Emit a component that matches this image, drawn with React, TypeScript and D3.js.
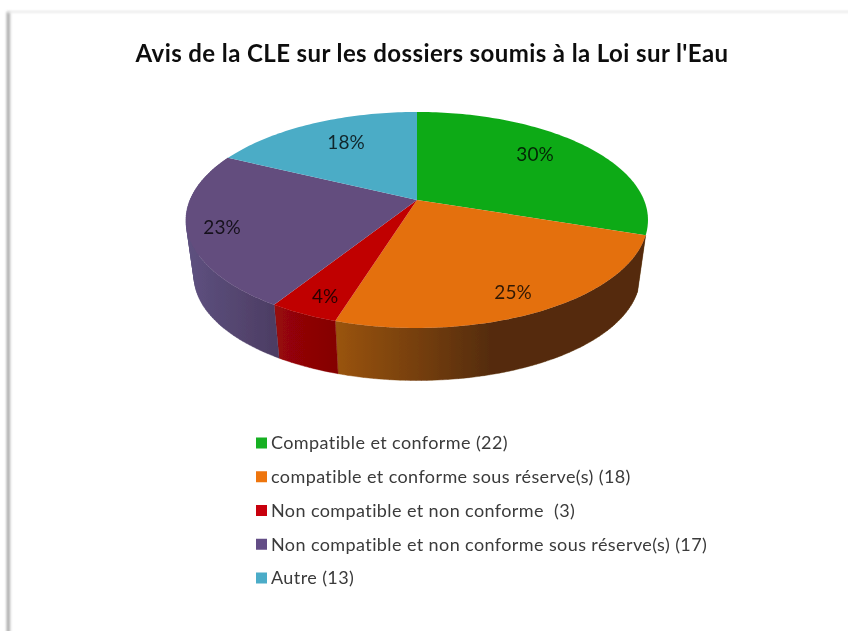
import React from "react";
import * as d3 from "d3";

const categories = [
  "Compatible et conforme (22)",
  "compatible et conforme sous réserve(s) (18)",
  "Non compatible et non conforme  (3)",
  "Non compatible et non conforme sous réserve(s) (17)",
  "Autre (13)",
];
const counts = [22, 18, 3, 17, 13];
const percentLabels = ["30%", "25%", "4%", "23%", "18%"];
const topColors = ["#10aa18", "#e46f0e", "#c00000", "#644d7e", "#4bacc6"];
const legendColors = ["#12b020", "#ee7410", "#c80008", "#644d86", "#4bacc8"];
const sideFrom = ["#0a7010", "#9a5410", "#980808", "#5e5180", "#2f7f95"];
const sideTo = ["#0a7010", "#552c08", "#840004", "#4c3c62", "#2f7f95"];
const labelPos: [number, number][] = [[535, 154], [513, 292], [325, 296], [222, 227], [346, 142]];

const W = 848, H = 631;
const cx = 417, apexY = 200, a = 227, b = 104.3, k = 0.185;
const depthApexY = 257, depthScale = 0.965;

function project(angle: number, scale: number, ay: number): [number, number] {
  const u = Math.sin(angle), v = -Math.cos(angle);
  const w = 1 - k * v;
  return [cx + (scale * a * u) / w, ay + (scale * b * v) / w];
}
function samples(a0: number, a1: number) {
  const n = Math.max(2, Math.ceil((a1 - a0) / 0.02));
  return d3.range(n + 1).map((i) => a0 + ((a1 - a0) * i) / n);
}

export default function App() {
  const arcs = d3.pie<number>().sort(null)(counts);
  const line = d3.line();
  const rows = d3.scalePoint<number>().domain(d3.range(5)).range([443, 578]);
  const topPath = (s: number, e: number) =>
    line([[cx, apexY], ...samples(s, e).map((t) => project(t, 1, apexY))])! + "Z";
  const sidePath = (s: number, e: number) => {
    const ts = samples(s, e);
    return ts.slice(1).map((t, j) => {
      const p = [
        project(ts[j], 1, apexY),
        project(t, 1, apexY),
        project(t, depthScale, depthApexY),
        project(ts[j], depthScale, depthApexY),
      ] as [number, number][];
      if (d3.polygonArea(p) < 0) p.reverse();
      return line(p)! + "Z";
    }).join("");
  };
  const sideExtent = (s: number, e: number) =>
    d3.extent(
      samples(s, e).flatMap((t) => [project(t, 1, apexY)[0], project(t, depthScale, depthApexY)[0]])
    ) as [number, number];
  return (
    <svg width={W} height={H} viewBox={`0 0 ${W} ${H}`}
      style={{ position: "fixed", left: 0, top: 0, display: "block", background: "#fff" }}>
      <defs>
        <filter id="soft" x="-5%" y="-5%" width="110%" height="110%"><feGaussianBlur stdDeviation="0.55" /></filter>
        <filter id="softText" x="-5%" y="-5%" width="110%" height="110%"><feGaussianBlur stdDeviation="0.35" /></filter>
        <filter id="edge" x="-500%" y="-20%" width="1100%" height="140%"><feGaussianBlur stdDeviation="1.6" /></filter>
        <filter id="edgeTop" x="-5%" y="-500%" width="110%" height="1100%"><feGaussianBlur stdDeviation="1.2" /></filter>
        {arcs.map((d, i) => {
          const [x0, x1] = sideExtent(d.startAngle, d.endAngle);
          return (
            <linearGradient key={i} id={`side${i}`} gradientUnits="userSpaceOnUse" x1={x0} x2={x1} y1={0} y2={0}>
              <stop offset="0" stopColor={sideFrom[i]} />
              <stop offset={i === 1 ? 0.5 : 1} stopColor={sideTo[i]} />
              <stop offset="1" stopColor={sideTo[i]} />
            </linearGradient>
          );
        })}
      </defs>

      <rect x={7} y={12} width={2.5} height={H} fill="#8c8c8c" filter="url(#edge)" />
      <rect x={8} y={11} width={W} height={1.5} fill="#e2e2e2" filter="url(#edgeTop)" />

      <g filter="url(#soft)">
        {[1, 2, 3].map((i) => (
          <path key={i} d={sidePath(arcs[i].startAngle, arcs[i].endAngle)} fill={`url(#side${i})`} stroke={`url(#side${i})`} strokeWidth={0.4} />
        ))}
        {arcs.map((d, i) => (
          <path key={i} d={topPath(d.startAngle, d.endAngle)} fill={topColors[i]} />
        ))}
      </g>

      <g style={{ fontFamily: "Lato, 'Open Sans', sans-serif" }} filter="url(#softText)">
        {percentLabels.map((t, i) => (
          <text key={t} x={labelPos[i][0]} y={labelPos[i][1]} dy="0.35em" textAnchor="middle"
            fontSize={19} fill="#000" fillOpacity={0.78}>{t}</text>
        ))}
        <text x={432} y={54} dy="0.35em" textAnchor="middle" fontSize={24} letterSpacing={0.4} fontWeight={700} fill="#111">
          Avis de la CLE sur les dossiers soumis à la Loi sur l'Eau
        </text>
        {categories.map((c, i) => (
          <g key={c}>
            <rect x={256} y={rows(i)! - 5.5} width={11} height={11} fill={legendColors[i]} />
            <text x={271} y={rows(i)!} dy="0.35em" fontSize={18} letterSpacing={0.4} fill="#3a3a3a" xmlSpace="preserve"
              style={{ whiteSpace: "pre" }}>{c}</text>
          </g>
        ))}
      </g>
    </svg>
  );
}
